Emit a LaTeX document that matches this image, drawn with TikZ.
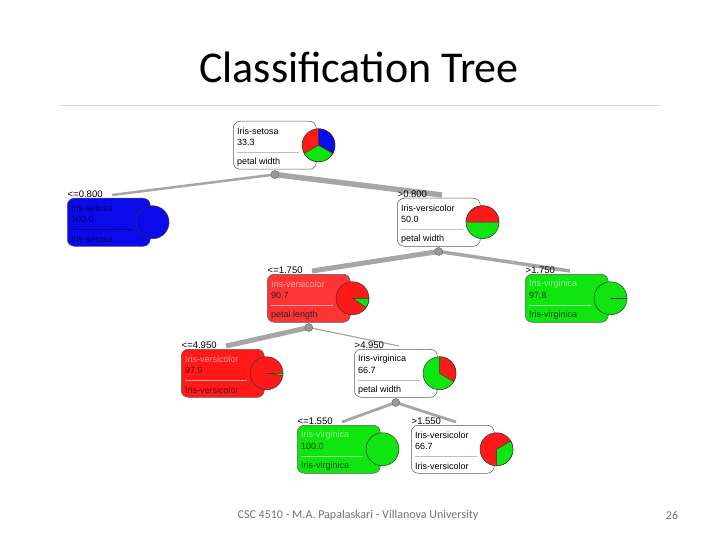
\documentclass[tikz,border=0pt]{standalone}
\usepackage{fontspec}
\setmainfont{Liberation Sans}
\newfontfamily\slidefont{Carlito}
\usetikzlibrary{positioning, calc, backgrounds}

\definecolor{irisred}{RGB}{255,25,25}
\definecolor{irisgreen}{RGB}{15,230,15}
\definecolor{irisblue}{RGB}{10,10,235}

% one slice of a class pie
\newcommand{\piewedge}[4]{%
  \filldraw[fill=#2, draw=black!80, line width=0.5pt] (#1.center) -- ++(#3:16.5pt)
    arc[start angle=#3, end angle=#4, radius=16.5pt] -- cycle;}

\begin{document}
\begin{tikzpicture}[x=1pt, y=-1pt,
    treebox/.style={draw=black!65, line width=0.5pt, rounded corners=7pt,
      minimum width=83pt, minimum height=48pt, anchor=north west, inner sep=0pt},
    treetext/.style={font=\fontsize{9}{10}\selectfont, anchor=west, inner sep=0pt},
    cond/.style={font=\fontsize{9.5}{10}\selectfont, anchor=south west, inner sep=0.5pt},
    pie/.style={circle, draw=black!80, line width=0.5pt, minimum size=33pt, inner sep=0pt},
    dot/.style={circle, draw=black!60, fill=black!40, minimum size=8pt, inner sep=0pt},
    edge/.style={draw=black!35}]
  \useasboundingbox (0,0) rectangle (720,540);

  % title and footer
  \node[font=\slidefont\fontsize{44}{48}\selectfont] (title) at (359,67) {Classification Tree};
  \draw[black!15, line width=0.8pt] (60,105) -- (660,105);
  \node[font=\slidefont\fontsize{12}{14}\selectfont, text=black!55] (foot) at (358,515)
    {CSC 4510 - M.A. Papalaskari - Villanova University};
  \node[font=\slidefont\fontsize{12}{14}\selectfont, text=black!55] (page) at (672,515) {26};

  % tree nodes: name/left/top/fill/first line/other lines/separator/texts
  \foreach \nm/\x/\y/\bg/\fa/\fb/\sep/\ta/\tb/\tc in {
      n1/233/121/white/black/black/black!25/Iris-setosa/33.3/petal width,
      n2/67/198/irisblue/irisblue!40!black/irisblue!40!black/irisblue!55!black/Iris-setosa/100.0/Iris-setosa,
      n3/397/198/white/black/black/black!25/Iris-versicolor/50.0/petal width,
      n4/267/274/irisred!88!white/irisred!35!white/black!85/irisred!40!white/Iris-versicolor/90.7/petal length,
      n5/525/274/irisgreen/irisgreen!45!white/irisgreen!30!black/irisgreen!45!white/Iris-virginica/97.8/Iris-virginica,
      n6/181/349/irisred/irisred!45!white/irisred!40!black/irisred!40!white/Iris-versicolor/97.9/Iris-versicolor,
      n7/354/349/white/black/black/black!25/Iris-virginica/66.7/petal width,
      n8/297/425/irisgreen/irisgreen!45!white/irisgreen!30!black/irisgreen!45!white/Iris-virginica/100.0/Iris-virginica,
      n9/411/425/white/black/black/black!25/Iris-versicolor/66.7/Iris-versicolor} {
    \node[treebox, fill=\bg] (\nm) at (\x,\y) {};
    \node[treetext, text=\fa] (\nm-a) at ($(\nm.north west)+(4,10)$) {\ta};
    \node[treetext, text=\fb] (\nm-b) at ($(\nm.north west)+(4,21)$) {\tb};
    \draw[\sep, line width=0.6pt] ($(\nm.north west)+(4,31)$) -- ($(\nm.north east)+(-18,31)$);
    \node[treetext, text=\fb] (\nm-c) at ($(\nm.north west)+(4,41)$) {\tc};
  }

  % class pies
  \node[pie, fill=irisred] (n1-pie) at ($(n1.east)+(2,0)$) {};
  \piewedge{n1-pie}{irisblue}{-30}{90}
  \piewedge{n1-pie}{irisgreen}{-150}{-30}
  \node[pie, fill=irisblue] (n2-pie) at ($(n2.east)+(2,0)$) {};
  \node[pie, fill=irisgreen] (n3-pie) at ($(n3.east)+(2,0)$) {};
  \piewedge{n3-pie}{irisred}{0}{180}
  \node[pie, fill=irisred] (n4-pie) at ($(n4.east)+(2,0)$) {};
  \piewedge{n4-pie}{irisgreen}{-34}{0}
  \node[pie, fill=irisgreen] (n5-pie) at ($(n5.east)+(2,0)$) {};
  \draw[black!80, line width=0.5pt] (n5-pie.center) -- (n5-pie.east);
  \node[pie, fill=irisred] (n6-pie) at ($(n6.east)+(2,0)$) {};
  \piewedge{n6-pie}{irisgreen!70!yellow}{-8}{0}
  \node[pie, fill=irisgreen] (n7-pie) at ($(n7.east)+(2,0)$) {};
  \piewedge{n7-pie}{irisred}{-30}{90}
  \node[pie, fill=irisgreen] (n8-pie) at ($(n8.east)+(2,0)$) {};
  \node[pie, fill=irisred] (n9-pie) at ($(n9.east)+(2,0)$) {};
  \piewedge{n9-pie}{irisgreen}{-90}{30}

  % split points
  \foreach \nm in {n1, n3, n4, n7}
    \node[dot] (\nm-dot) at ($(\nm.south)+(0,5)$) {};

  % split conditions
  \node[cond] (l2) at (n2.north west) {<=0.800};
  \node[cond] (l3) at (n3.north west) {>0.800};
  \node[cond] (l4) at (n4.north west) {<=1.750};
  \node[cond] (l5) at (n5.north west) {>1.750};
  \node[cond] (l6) at (n6.north west) {<=4.950};
  \node[cond] (l7) at (n7.north west) {>4.950};
  \node[cond] (l8) at (n8.north west) {<=1.550};
  \node[cond] (l9) at (n9.north west) {>1.550};

  % branches, width by number of instances
  \foreach \nm in {n2, n3, n4, n5, n6, n7, n8, n9}
    \coordinate (\nm-in) at ($(\nm.north west)+(45,-3)$);
  \begin{pgfonlayer}{background}
    \draw[edge, line width=2.5pt] (n1-dot.center) -- (n2-in);
    \draw[edge, line width=5.5pt] (n1-dot.center) -- (n3-in);
    \draw[edge, line width=5pt] (n3-dot.center) -- (n4-in);
    \draw[edge, line width=3.5pt] (n3-dot.center) -- (n5-in);
    \draw[edge, line width=5pt] (n4-dot.center) -- (n6-in);
    \draw[edge, line width=1.2pt] (n4-dot.center) -- (n7-in);
    \draw[edge, line width=2.8pt] (n7-dot.center) -- (n8-in);
    \draw[edge, line width=2.8pt] (n7-dot.center) -- (n9-in);
  \end{pgfonlayer}
\end{tikzpicture}
\end{document}
